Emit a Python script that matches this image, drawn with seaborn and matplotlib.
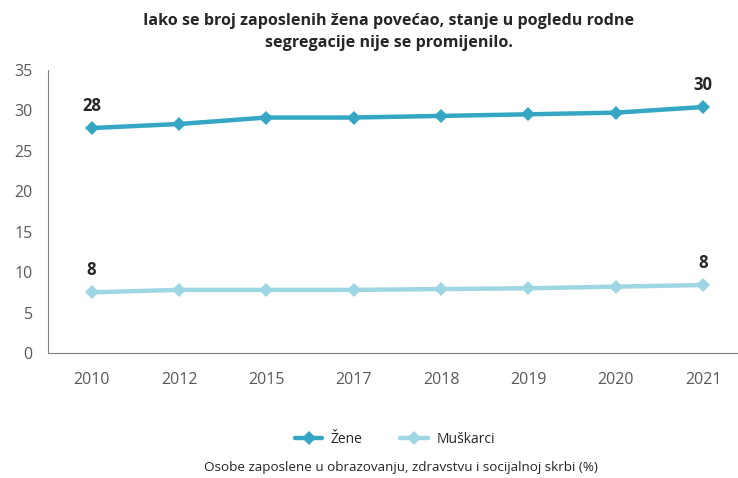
import pandas as pd
import matplotlib.pyplot as plt
import seaborn as sns

# data
years = ['2010', '2012', '2015', '2017', '2018', '2019', '2020', '2021']
zene = [27.8, 28.3, 29.1, 29.1, 29.3, 29.5, 29.7, 30.4]
muskarci = [7.5, 7.8, 7.8, 7.8, 7.9, 8.0, 8.2, 8.4]

df = pd.DataFrame({'Godina': years * 2,
                   'Udio': zene + muskarci,
                   'Spol': ['Žene'] * len(years) + ['Muškarci'] * len(years)})

sns.set_style('white')
plt.rcParams['font.family'] = ['Open Sans', 'DejaVu Sans']

fig = plt.figure(figsize=(7.38, 4.78), dpi=100)
ax = fig.add_axes([0.065, 0.2615, 0.947, 0.5925])

colors = {'Žene': '#35a7c4', 'Muškarci': '#9ed6e3'}
sns.lineplot(data=df, x='Godina', y='Udio', hue='Spol', palette=colors,
             marker='D', markersize=7, linewidth=3.2, markeredgewidth=0,
             ax=ax, legend=False)

ax.set_xlim(-0.5, 7.5)
ax.set_ylim(0, 35)
ax.set_yticks(range(0, 36, 5))
ax.set_xticks(range(len(years)))
ax.set_xticklabels(years)
ax.set_xticks([i - 0.5 for i in range(len(years) + 1)], minor=True)
ax.tick_params(axis='x', which='major', length=0, pad=14, labelsize=11.5, labelcolor='#595959')
ax.tick_params(axis='x', which='minor', length=5, direction='out', color='#808080', width=1)
ax.tick_params(axis='y', length=5, direction='out', color='#808080', labelsize=11.5,
               labelcolor='#595959', pad=6)
ax.set_xlabel('')
ax.set_ylabel('')
for s in ['top', 'right']:
    ax.spines[s].set_visible(False)
for s in ['left', 'bottom']:
    ax.spines[s].set_color('#808080')

# end-point labels
for i in [0, len(years) - 1]:
    ax.text(i, zene[i] + 1.6, f'{zene[i]:.0f}', ha='center', va='bottom',
            fontsize=12, fontweight='bold')
    ax.text(i, muskarci[i] + 1.6, f'{muskarci[i]:.0f}', ha='center', va='bottom',
            fontsize=12, fontweight='bold')

fig.text(0.527, 0.934, 'Iako se broj zaposlenih žena povećao, stanje u pogledu rodne\nsegregacije nije se promijenilo.',
         ha='center', va='center', fontsize=11.6, fontweight='bold', linespacing=1.5)

handles = [plt.Line2D([], [], color=colors[k], marker='D', markersize=7, linewidth=3.2,
                      markeredgewidth=0) for k in ['Žene', 'Muškarci']]
fig.legend(handles, ['Žene', 'Muškarci'], loc='center', bbox_to_anchor=(0.535, 0.08),
           ncol=2, frameon=False, fontsize=10, handlelength=2.0, handletextpad=0.6,
           columnspacing=2.7)

fig.text(0.543, 0.022, 'Osobe zaposlene u obrazovanju, zdravstvu i socijalnoj skrbi (%)',
         ha='center', va='center', fontsize=9.7)

fig.savefig('out.png', dpi=100)
